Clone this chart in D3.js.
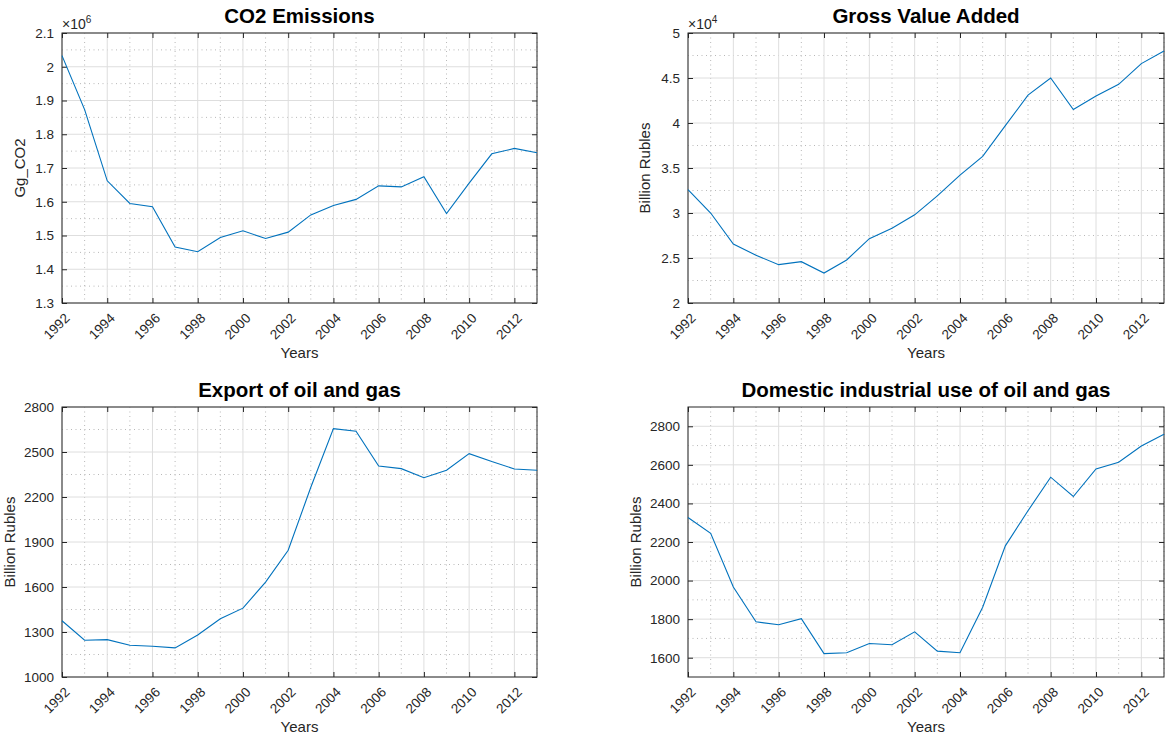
<!DOCTYPE html>
<html>
<head>
<meta charset="utf-8">
<script src="https://cdn.jsdelivr.net/npm/d3@7/dist/d3.min.js"></script>
<style>
  html, body { margin: 0; padding: 0; background: #fff; }
  svg { display: block; font-family: "Liberation Sans", Arial, Helvetica, sans-serif; }
  .tick text { fill: #262626; font-size: 13.5px; }
  .tick line { stroke: #262626; }
</style>
</head>
<body>
<svg id="chart" width="1166" height="742"></svg>
<script>
// years on the x axis
const years = d3.range(1992, 2014);

// CO2 emissions, Gg_CO2
const co2 = [2033000, 1873000, 1662000, 1595000, 1585000, 1466000, 1452000, 1494000,
  1514000, 1491000, 1510000, 1561000, 1589000, 1607000, 1647000, 1644000,
  1674000, 1565000, 1655000, 1742000, 1758000, 1745000];

// gross value added, billion rubles
const gva = [32600, 30000, 26560, 25300, 24260, 24590, 23330, 24780,
  27150, 28300, 29800, 31900, 34200, 36300, 39700, 43100,
  45000, 41500, 43000, 44300, 46600, 48000];

// export of oil and gas, billion rubles
const exportOG = [1375, 1245, 1249, 1212, 1205, 1194, 1280, 1388,
  1459, 1633, 1845, 2265, 2656, 2638, 2407, 2389,
  2329, 2378, 2489, 2436, 2387, 2378];

// domestic industrial use of oil and gas, billion rubles
const domesticOG = [2327, 2245, 1967, 1786, 1771, 1802, 1621, 1626,
  1674, 1667, 1734, 1634, 1626, 1862, 2180, 2362,
  2536, 2436, 2579, 2614, 2698, 2759];

const xTicks = d3.range(1992, 2013, 2);

const svg = d3.select('#chart');
const fmt = v => String(+v.toFixed(3));

function panel(o) {
  const w = o.right - o.left, h = o.bottom - o.top;
  const g = svg.append('g').attr('transform', `translate(${o.left},${o.top})`);

  const x = d3.scaleLinear().domain([1992, 2013]).range([0, w]);
  const y = d3.scaleLinear().domain(o.domain).range([h, 0]);

  const eps = o.step * 1e-6;
  const yMajor = d3.range(o.tickMin, o.domain[1] + eps, o.step);
  const yMinor = d3.range(o.tickMin - o.step / 2, o.domain[1] + eps, o.step)
    .filter(v => v > o.domain[0] + eps && v < o.domain[1] - eps);
  const xMinor = d3.range(1993, 2014, 2);

  // minor grid
  g.append('g').selectAll('line').data(xMinor).join('line')
    .attr('x1', d => x(d)).attr('x2', d => x(d)).attr('y1', 0).attr('y2', h)
    .attr('stroke', '#b8b8b8').attr('stroke-width', 1).attr('stroke-dasharray', '1,3.5');
  g.append('g').selectAll('line').data(yMinor).join('line')
    .attr('y1', d => y(d)).attr('y2', d => y(d)).attr('x1', 0).attr('x2', w)
    .attr('stroke', '#b8b8b8').attr('stroke-width', 1).attr('stroke-dasharray', '1,3.5');

  // major grid
  g.append('g').selectAll('line').data(xTicks).join('line')
    .attr('x1', d => x(d)).attr('x2', d => x(d)).attr('y1', 0).attr('y2', h)
    .attr('stroke', '#dedede').attr('stroke-width', 1);
  g.append('g').selectAll('line').data(yMajor).join('line')
    .attr('y1', d => y(d)).attr('y2', d => y(d)).attr('x1', 0).attr('x2', w)
    .attr('stroke', '#dedede').attr('stroke-width', 1);

  // axes, ticks pointing inward
  const ax = g.append('g').attr('transform', `translate(0,${h})`)
    .call(d3.axisBottom(x).tickValues(xTicks).tickSize(-5).tickFormat(d3.format('d')));
  ax.select('.domain').remove();
  ax.selectAll('.tick text')
    .attr('text-anchor', 'end').attr('dy', null).attr('y', null)
    .attr('transform', 'translate(8,16) rotate(-45)');

  const ay = g.append('g')
    .call(d3.axisLeft(y).tickValues(yMajor).tickSize(-5).tickPadding(8)
      .tickFormat(v => fmt(v / o.scale)));
  ay.select('.domain').remove();

  const at = g.append('g').call(d3.axisTop(x).tickValues(xTicks).tickSize(-5).tickFormat(''));
  at.select('.domain').remove();
  const ar = g.append('g').attr('transform', `translate(${w},0)`)
    .call(d3.axisRight(y).tickValues(yMajor).tickSize(-5).tickFormat(''));
  ar.select('.domain').remove();

  g.append('rect').attr('width', w).attr('height', h)
    .attr('fill', 'none').attr('stroke', '#262626').attr('stroke-width', 1);

  // data line
  g.append('path').datum(o.values)
    .attr('fill', 'none').attr('stroke', '#0072BD').attr('stroke-width', 1.1)
    .attr('d', d3.line().x((d, i) => x(years[i])).y(d => y(d)));

  // title
  g.append('text').attr('x', w / 2).attr('y', -10)
    .attr('text-anchor', 'middle').attr('font-weight', 'bold').attr('font-size', 20.5)
    .attr('fill', '#000').text(o.title);

  // x label
  g.append('text').attr('x', w / 2).attr('y', h + 55)
    .attr('text-anchor', 'middle').attr('font-size', 15).attr('fill', '#262626').text('Years');

  // y label
  g.append('text')
    .attr('transform', `translate(${-o.ylabOffset},${h / 2}) rotate(-90)`)
    .attr('text-anchor', 'middle').attr('font-size', 15).attr('fill', '#262626').text(o.ylabel);

  // exponent marker
  if (o.exp) {
    const t = g.append('text').attr('x', 0).attr('y', -4).attr('font-size', 14).attr('fill', '#262626');
    t.append('tspan').text('\u00d710');
    t.append('tspan').attr('font-size', 10).attr('dy', -6).text(o.exp);
  }
}

panel({ left: 62, right: 537, top: 33, bottom: 303, title: 'CO2 Emissions', ylabel: 'Gg_CO2',
  values: co2, domain: [1.3e6, 2.1e6], step: 1e5, tickMin: 1.3e6, scale: 1e6, exp: '6', ylabOffset: 37 });
panel({ left: 688, right: 1164, top: 33, bottom: 303, title: 'Gross Value Added', ylabel: 'Billion Rubles',
  values: gva, domain: [2e4, 5e4], step: 5e3, tickMin: 2e4, scale: 1e4, exp: '4', ylabOffset: 38 });
panel({ left: 62, right: 537, top: 407, bottom: 677, title: 'Export of oil and gas', ylabel: 'Billion Rubles',
  values: exportOG, domain: [1000, 2800], step: 300, tickMin: 1000, scale: 1, ylabOffset: 47 });
panel({ left: 688, right: 1164, top: 407, bottom: 677, title: 'Domestic industrial use of oil and gas', ylabel: 'Billion Rubles',
  values: domesticOG, domain: [1500, 2900], step: 200, tickMin: 1600, scale: 1, ylabOffset: 47 });
</script>
</body>
</html>
